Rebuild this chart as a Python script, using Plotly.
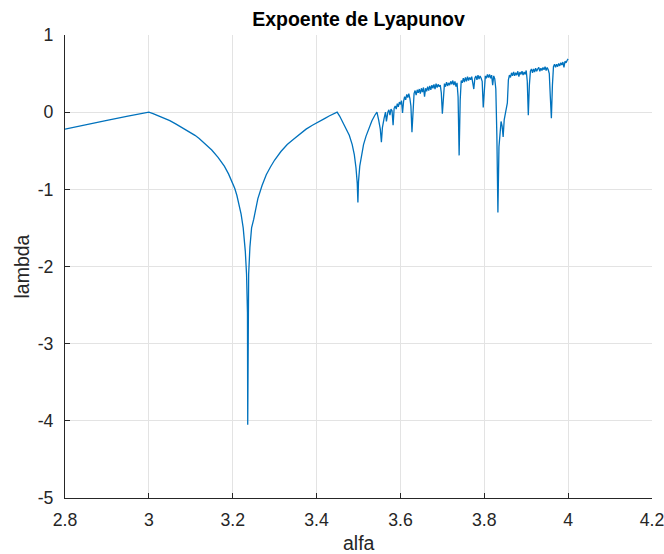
import plotly.graph_objects as go

# ---- data (alfa, lambda) ----
alfa_stable = [2.8, 2.85, 2.9, 2.95, 3.0]
lambda_stable = [-0.22, -0.16, -0.105, -0.05, 0.0]

alfa_p2 = [3.01, 3.02, 3.035, 3.05, 3.065, 3.08, 3.09, 3.1, 3.11, 3.12, 3.135, 3.15,
           3.165, 3.18, 3.19, 3.2, 3.205, 3.21, 3.215, 3.22, 3.225, 3.23,
           3.233, 3.2352, 3.2358, 3.2364, 3.238, 3.241, 3.245, 3.25, 3.26, 3.27, 3.28,
           3.29, 3.3, 3.315, 3.33, 3.345, 3.36, 3.375, 3.39, 3.405, 3.42, 3.43, 3.44, 3.449]
lambda_p2 = [-0.02, -0.04, -0.075, -0.11, -0.155, -0.2, -0.23, -0.26, -0.30, -0.34, -0.41, -0.49,
             -0.585, -0.70, -0.80, -0.92, -0.99, -1.08, -1.19, -1.32, -1.5, -1.8,
             -2.1, -2.6, -4.05, -2.6, -2.1, -1.75, -1.5, -1.39, -1.12, -0.95, -0.81,
             -0.71, -0.62, -0.51, -0.42, -0.35, -0.28, -0.22, -0.17, -0.12, -0.08, -0.05, -0.02, 0.0]

alfa_p4 = [3.455, 3.462, 3.47, 3.478, 3.485, 3.49, 3.494, 3.497, 3.4986, 3.5, 3.503,
           3.507, 3.512, 3.518, 3.525, 3.532, 3.539, 3.544]
lambda_p4 = [-0.05, -0.12, -0.2, -0.3, -0.42, -0.55, -0.72, -0.92, -1.17, -0.9, -0.7,
             -0.55, -0.42, -0.31, -0.2, -0.11, -0.04, 0.0]

alfa_p8 = [3.548, 3.552, 3.5546, 3.557, 3.561, 3.5644, 3.5666, 3.5688]
lambda_p8 = [-0.1, -0.22, -0.39, -0.2, -0.08, 0.0, -0.12, 0.0]

alfa_chaos = [
    3.5700, 3.5725, 3.5750, 3.5775, 3.5800, 3.5825, 3.5850, 3.5875,
    3.5900, 3.5925, 3.5950, 3.5975, 3.6000, 3.6025, 3.6050, 3.6075,
    3.6100, 3.6125, 3.6150, 3.6175, 3.6200, 3.6225, 3.6250, 3.6275,
    3.6300, 3.6325, 3.6350, 3.6375, 3.6400, 3.6425, 3.6450, 3.6475,
    3.6500, 3.6525, 3.6550, 3.6575, 3.6600, 3.6625, 3.6650, 3.6675,
    3.6700, 3.6725, 3.6750, 3.6775, 3.6800, 3.6825, 3.6850, 3.6875,
    3.6900, 3.6925, 3.6950, 3.6975, 3.7000, 3.7025, 3.7050, 3.7075,
    3.7100, 3.7125, 3.7150, 3.7175, 3.7200, 3.7225, 3.7250, 3.7275,
    3.7300, 3.7325, 3.7350, 3.7375, 3.7400, 3.7425, 3.7450, 3.7475,
    3.7500, 3.7525, 3.7550, 3.7575, 3.7600, 3.7625, 3.7650, 3.7675,
    3.7700, 3.7725, 3.7750, 3.7775, 3.7800, 3.7825, 3.7850, 3.7875,
    3.7900, 3.7925, 3.7950, 3.7975, 3.8000, 3.8025, 3.8050, 3.8075,
    3.8100, 3.8125, 3.8150, 3.8175, 3.8200, 3.8225, 3.8250, 3.8275,
    3.8300, 3.8325, 3.8350, 3.8375, 3.8400, 3.8425, 3.8450, 3.8475,
    3.8500, 3.8525, 3.8550, 3.8575, 3.8600, 3.8625, 3.8650, 3.8675,
    3.8700, 3.8725, 3.8750, 3.8775, 3.8800, 3.8825, 3.8850, 3.8875,
    3.8900, 3.8925, 3.8950, 3.8975, 3.9000, 3.9025, 3.9050, 3.9075,
    3.9100, 3.9125, 3.9150, 3.9175, 3.9200, 3.9225, 3.9250, 3.9275,
    3.9300, 3.9325, 3.9350, 3.9375, 3.9400, 3.9425, 3.9450, 3.9475,
    3.9500, 3.9525, 3.9550, 3.9575, 3.9600, 3.9625, 3.9650, 3.9675,
    3.9700, 3.9725, 3.9750, 3.9775, 3.9800, 3.9825, 3.9850, 3.9875,
    3.9900, 3.9925, 3.9950, 3.9975, 4.0000]
lambda_chaos = [
    0.00, 0.03, -0.04, 0.04, 0.02, -0.17, 0.05, 0.08,
    0.04, 0.11, 0.07, 0.13, 0.10, 0.15, -0.01, 0.14,
    0.20, 0.16, 0.23, 0.19, 0.24, 0.18, 0.08, -0.26,
    0.12, 0.24, 0.28, 0.22, 0.29, 0.25, 0.30, 0.24,
    0.31, 0.26, 0.32, 0.20, 0.31, 0.27, 0.33, 0.28,
    0.34, 0.29, 0.35, 0.31, 0.36, 0.30, 0.37, 0.32,
    0.36, 0.33, 0.35, 0.25, -0.02, 0.22, 0.37, 0.33,
    0.39, 0.34, 0.38, 0.35, 0.40, 0.36, 0.41, 0.35,
    0.40, 0.33, 0.38, 0.20, -0.56, 0.15, 0.41, 0.38,
    0.44, 0.39, 0.45, 0.40, 0.46, 0.41, 0.45, 0.42,
    0.46, 0.38, 0.30, 0.44, 0.47, 0.42, 0.48, 0.43,
    0.47, 0.44, 0.40, 0.06, 0.38, 0.47, 0.44, 0.49,
    0.45, 0.49, 0.44, 0.48, 0.35, 0.47, 0.43, 0.30,
    -0.30, -1.30, -0.45, -0.20, -0.12, -0.18, -0.32, -0.10,
    -0.02, 0.05, 0.12, 0.42, 0.48, 0.45, 0.51, 0.47,
    0.52, 0.47, 0.51, 0.48, 0.53, 0.46, 0.52, 0.49,
    0.53, 0.48, 0.52, 0.49, 0.54, 0.40, -0.04, 0.35,
    0.53, 0.56, 0.51, 0.56, 0.52, 0.57, 0.53, 0.56,
    0.58, 0.53, 0.57, 0.54, 0.58, 0.55, 0.59, 0.54,
    0.58, 0.55, 0.50, 0.20, -0.08, 0.35, 0.59, 0.62,
    0.58, 0.62, 0.59, 0.63, 0.60, 0.64, 0.61, 0.65,
    0.58, 0.66, 0.64, 0.67, 0.69]

alfa = alfa_stable + alfa_p2 + alfa_p4 + alfa_p8 + alfa_chaos
lam = lambda_stable + lambda_p2 + lambda_p4 + lambda_p8 + lambda_chaos

x_ticks = [2.8, 3, 3.2, 3.4, 3.6, 3.8, 4, 4.2]
x_tick_labels = ["2.8", "3", "3.2", "3.4", "3.6", "3.8", "4", "4.2"]
y_ticks = [1, 0, -1, -2, -3, -4, -5]
y_tick_labels = ["1", "0", "-1", "-2", "-3", "-4", "-5"]

FONT = "Liberation Sans, Arial, sans-serif"
AXC = "#262626"
GRID = "#e3e3e3"

W, H = 664, 554
ML, MR, MT, MB = 65, 12, 35, 56
plot_w = W - ML - MR
plot_h = H - MT - MB

fig = go.Figure()
fig.add_trace(go.Scatter(x=alfa, y=lam, mode="lines",
                         line=dict(color="#0072BD", width=1.3),
                         showlegend=False, hoverinfo="x+y"))

fig.update_layout(
    width=W, height=H,
    margin=dict(l=ML, r=MR, t=MT, b=MB, autoexpand=False),
    paper_bgcolor="white", plot_bgcolor="white",
    font=dict(family=FONT, color=AXC),
    title=dict(text="<b>Expoente de Lyapunov</b>", x=0.5, xref="paper", xanchor="center",
               y=1 - 19 / H, yanchor="middle", yref="container",
               font=dict(size=19.5, color="black", family=FONT)),
    xaxis=dict(range=[2.8, 4.2], tickvals=x_ticks, ticktext=x_tick_labels,
               showgrid=True, gridcolor=GRID, gridwidth=1, automargin=False,
               showline=True, linecolor=AXC, linewidth=1, mirror=False,
               ticks="inside", ticklen=5, tickcolor=AXC, ticklabelstandoff=6,
               ticklabeloverflow="allow",
               tickfont=dict(size=17.7, color=AXC), zeroline=False),
    yaxis=dict(range=[-5, 1], tickvals=y_ticks, ticktext=y_tick_labels,
               showgrid=True, gridcolor=GRID, gridwidth=1, automargin=False,
               showline=True, linecolor=AXC, linewidth=1, mirror=False,
               ticks="inside", ticklen=5, tickcolor=AXC, ticklabelstandoff=7,
               ticklabeloverflow="allow",
               tickfont=dict(size=17.7, color=AXC), zeroline=False),
    annotations=[
        dict(text="alfa", x=0.5, xref="paper", y=-(543 - 498) / plot_h, yref="paper",
             showarrow=False, font=dict(size=19.5, color=AXC, family=FONT),
             xanchor="center", yanchor="middle"),
        dict(text="lambda", x=-(ML - 21) / plot_w, xref="paper", y=0.5, yref="paper",
             showarrow=False, textangle=-90, font=dict(size=19.5, color=AXC, family=FONT),
             xanchor="center", yanchor="middle"),
    ],
)

fig.write_html("out.html", config={"displayModeBar": False},
               post_script="document.body.style.margin='0';document.body.style.overflow='hidden';")
